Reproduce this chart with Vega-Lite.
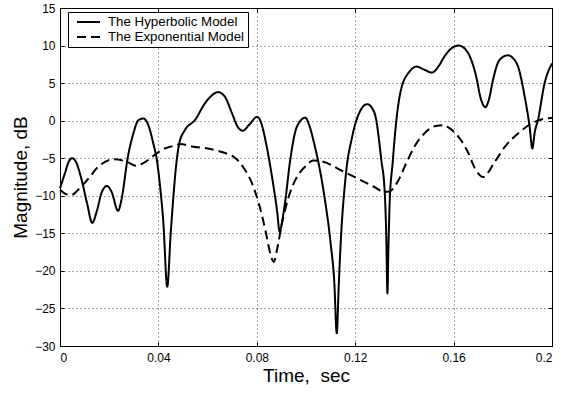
{
  "$schema": "https://vega.github.io/schema/vega-lite/v6.json",
  "width": 492,
  "height": 338,
  "autosize": {"type": "none"},
  "padding": {"left": 60, "top": 8, "right": 17, "bottom": 47},
  "background": "white",
  "config": {
    "font": "Liberation Sans",
    "view": {"stroke": "black", "strokeWidth": 1},
    "axis": {
      "domainColor": "black", "domainWidth": 1,
      "tickColor": "black", "tickSize": -4, "tickWidth": 1,
      "labelColor": "black", "labelFontSize": 12,
      "titleColor": "black", "titleFontSize": 19, "titleFontWeight": "normal",
      "gridColor": "#000", "gridOpacity": 0.7, "gridDash": [1, 3], "gridWidth": 1
    }
  },
  "data": {
    "values": [
      {"model": "The Hyperbolic Model", "t": 0, "db": -9.0},
      {"model": "The Hyperbolic Model", "t": 0.002, "db": -7.0},
      {"model": "The Hyperbolic Model", "t": 0.0035, "db": -5.5},
      {"model": "The Hyperbolic Model", "t": 0.005, "db": -5.0},
      {"model": "The Hyperbolic Model", "t": 0.0065, "db": -5.5},
      {"model": "The Hyperbolic Model", "t": 0.0085, "db": -7.5},
      {"model": "The Hyperbolic Model", "t": 0.011, "db": -11.0},
      {"model": "The Hyperbolic Model", "t": 0.0131, "db": -13.6},
      {"model": "The Hyperbolic Model", "t": 0.015, "db": -12.0},
      {"model": "The Hyperbolic Model", "t": 0.017, "db": -9.5},
      {"model": "The Hyperbolic Model", "t": 0.0191, "db": -8.7},
      {"model": "The Hyperbolic Model", "t": 0.021, "db": -9.5},
      {"model": "The Hyperbolic Model", "t": 0.0236, "db": -12.0},
      {"model": "The Hyperbolic Model", "t": 0.025, "db": -10.5},
      {"model": "The Hyperbolic Model", "t": 0.0276, "db": -4.8},
      {"model": "The Hyperbolic Model", "t": 0.03, "db": -1.5},
      {"model": "The Hyperbolic Model", "t": 0.0317, "db": 0.0},
      {"model": "The Hyperbolic Model", "t": 0.0338, "db": 0.3},
      {"model": "The Hyperbolic Model", "t": 0.0358, "db": -0.5},
      {"model": "The Hyperbolic Model", "t": 0.0379, "db": -3.0},
      {"model": "The Hyperbolic Model", "t": 0.0395, "db": -5.5},
      {"model": "The Hyperbolic Model", "t": 0.0407, "db": -8.8},
      {"model": "The Hyperbolic Model", "t": 0.042, "db": -13.5},
      {"model": "The Hyperbolic Model", "t": 0.0436, "db": -22.1},
      {"model": "The Hyperbolic Model", "t": 0.045, "db": -15.0},
      {"model": "The Hyperbolic Model", "t": 0.0461, "db": -10.1},
      {"model": "The Hyperbolic Model", "t": 0.0472, "db": -6.0},
      {"model": "The Hyperbolic Model", "t": 0.0485, "db": -3.0},
      {"model": "The Hyperbolic Model", "t": 0.0508, "db": -1.24},
      {"model": "The Hyperbolic Model", "t": 0.0549, "db": 0.1},
      {"model": "The Hyperbolic Model", "t": 0.0589, "db": 2.3},
      {"model": "The Hyperbolic Model", "t": 0.0615, "db": 3.3},
      {"model": "The Hyperbolic Model", "t": 0.0642, "db": 3.8},
      {"model": "The Hyperbolic Model", "t": 0.067, "db": 3.2},
      {"model": "The Hyperbolic Model", "t": 0.0699, "db": 1.0},
      {"model": "The Hyperbolic Model", "t": 0.0722, "db": -0.8},
      {"model": "The Hyperbolic Model", "t": 0.0743, "db": -1.34},
      {"model": "The Hyperbolic Model", "t": 0.077, "db": -0.5},
      {"model": "The Hyperbolic Model", "t": 0.0801, "db": 0.5},
      {"model": "The Hyperbolic Model", "t": 0.082, "db": -0.5},
      {"model": "The Hyperbolic Model", "t": 0.0835, "db": -2.6},
      {"model": "The Hyperbolic Model", "t": 0.0862, "db": -7.5},
      {"model": "The Hyperbolic Model", "t": 0.0882, "db": -11.9},
      {"model": "The Hyperbolic Model", "t": 0.0893, "db": -14.8},
      {"model": "The Hyperbolic Model", "t": 0.0905, "db": -13.0},
      {"model": "The Hyperbolic Model", "t": 0.0916, "db": -10.6},
      {"model": "The Hyperbolic Model", "t": 0.0936, "db": -5.2},
      {"model": "The Hyperbolic Model", "t": 0.0963, "db": -0.8},
      {"model": "The Hyperbolic Model", "t": 0.0997, "db": 0.4},
      {"model": "The Hyperbolic Model", "t": 0.1015, "db": -0.8},
      {"model": "The Hyperbolic Model", "t": 0.1033, "db": -3.0},
      {"model": "The Hyperbolic Model", "t": 0.1073, "db": -9.7},
      {"model": "The Hyperbolic Model", "t": 0.11, "db": -16.3},
      {"model": "The Hyperbolic Model", "t": 0.1115, "db": -21.5},
      {"model": "The Hyperbolic Model", "t": 0.1125, "db": -28.3},
      {"model": "The Hyperbolic Model", "t": 0.1133, "db": -22.0},
      {"model": "The Hyperbolic Model", "t": 0.1141, "db": -16.3},
      {"model": "The Hyperbolic Model", "t": 0.1161, "db": -7.5},
      {"model": "The Hyperbolic Model", "t": 0.1188, "db": -2.1},
      {"model": "The Hyperbolic Model", "t": 0.1222, "db": 1.4},
      {"model": "The Hyperbolic Model", "t": 0.1249, "db": 2.2},
      {"model": "The Hyperbolic Model", "t": 0.127, "db": 1.6},
      {"model": "The Hyperbolic Model", "t": 0.1283, "db": 0.5},
      {"model": "The Hyperbolic Model", "t": 0.1306, "db": -5.2},
      {"model": "The Hyperbolic Model", "t": 0.132, "db": -9.5},
      {"model": "The Hyperbolic Model", "t": 0.1326, "db": -15.0},
      {"model": "The Hyperbolic Model", "t": 0.1331, "db": -23.0},
      {"model": "The Hyperbolic Model", "t": 0.1335, "db": -17.0},
      {"model": "The Hyperbolic Model", "t": 0.134, "db": -11.0},
      {"model": "The Hyperbolic Model", "t": 0.1352, "db": -5.7},
      {"model": "The Hyperbolic Model", "t": 0.1366, "db": -0.35},
      {"model": "The Hyperbolic Model", "t": 0.1386, "db": 4.1},
      {"model": "The Hyperbolic Model", "t": 0.142, "db": 6.5},
      {"model": "The Hyperbolic Model", "t": 0.145, "db": 7.2},
      {"model": "The Hyperbolic Model", "t": 0.148, "db": 6.8},
      {"model": "The Hyperbolic Model", "t": 0.1512, "db": 6.4},
      {"model": "The Hyperbolic Model", "t": 0.154, "db": 7.3},
      {"model": "The Hyperbolic Model", "t": 0.1562, "db": 8.5},
      {"model": "The Hyperbolic Model", "t": 0.159, "db": 9.6},
      {"model": "The Hyperbolic Model", "t": 0.1621, "db": 10.0},
      {"model": "The Hyperbolic Model", "t": 0.1645, "db": 9.6},
      {"model": "The Hyperbolic Model", "t": 0.1664, "db": 8.7},
      {"model": "The Hyperbolic Model", "t": 0.1692, "db": 5.85},
      {"model": "The Hyperbolic Model", "t": 0.171, "db": 3.0},
      {"model": "The Hyperbolic Model", "t": 0.1729, "db": 1.8},
      {"model": "The Hyperbolic Model", "t": 0.1745, "db": 3.0},
      {"model": "The Hyperbolic Model", "t": 0.176, "db": 5.4},
      {"model": "The Hyperbolic Model", "t": 0.1787, "db": 8.1},
      {"model": "The Hyperbolic Model", "t": 0.1821, "db": 8.7},
      {"model": "The Hyperbolic Model", "t": 0.1845, "db": 8.2},
      {"model": "The Hyperbolic Model", "t": 0.1862, "db": 7.2},
      {"model": "The Hyperbolic Model", "t": 0.1889, "db": 3.2},
      {"model": "The Hyperbolic Model", "t": 0.1909, "db": -0.8},
      {"model": "The Hyperbolic Model", "t": 0.192, "db": -3.7},
      {"model": "The Hyperbolic Model", "t": 0.193, "db": -1.5},
      {"model": "The Hyperbolic Model", "t": 0.1943, "db": 0.1},
      {"model": "The Hyperbolic Model", "t": 0.197, "db": 5.0},
      {"model": "The Hyperbolic Model", "t": 0.2, "db": 7.6},
      {"model": "The Exponential Model", "t": 0, "db": -9.2},
      {"model": "The Exponential Model", "t": 0.002, "db": -9.7},
      {"model": "The Exponential Model", "t": 0.0045, "db": -9.9},
      {"model": "The Exponential Model", "t": 0.008, "db": -9.0},
      {"model": "The Exponential Model", "t": 0.0121, "db": -7.5},
      {"model": "The Exponential Model", "t": 0.015, "db": -6.3},
      {"model": "The Exponential Model", "t": 0.0168, "db": -5.8},
      {"model": "The Exponential Model", "t": 0.0217, "db": -5.15},
      {"model": "The Exponential Model", "t": 0.0271, "db": -5.46},
      {"model": "The Exponential Model", "t": 0.031, "db": -6.0},
      {"model": "The Exponential Model", "t": 0.033, "db": -5.8},
      {"model": "The Exponential Model", "t": 0.036, "db": -5.2},
      {"model": "The Exponential Model", "t": 0.0393, "db": -4.35},
      {"model": "The Exponential Model", "t": 0.0434, "db": -3.6},
      {"model": "The Exponential Model", "t": 0.047, "db": -3.3},
      {"model": "The Exponential Model", "t": 0.0488, "db": -3.1},
      {"model": "The Exponential Model", "t": 0.0542, "db": -3.47},
      {"model": "The Exponential Model", "t": 0.06, "db": -3.7},
      {"model": "The Exponential Model", "t": 0.065, "db": -4.1},
      {"model": "The Exponential Model", "t": 0.0679, "db": -4.4},
      {"model": "The Exponential Model", "t": 0.0706, "db": -4.8},
      {"model": "The Exponential Model", "t": 0.0747, "db": -6.3},
      {"model": "The Exponential Model", "t": 0.078, "db": -8.3},
      {"model": "The Exponential Model", "t": 0.0808, "db": -11.0},
      {"model": "The Exponential Model", "t": 0.0835, "db": -14.6},
      {"model": "The Exponential Model", "t": 0.0855, "db": -17.7},
      {"model": "The Exponential Model", "t": 0.0869, "db": -18.8},
      {"model": "The Exponential Model", "t": 0.0882, "db": -17.2},
      {"model": "The Exponential Model", "t": 0.0902, "db": -13.7},
      {"model": "The Exponential Model", "t": 0.093, "db": -10.1},
      {"model": "The Exponential Model", "t": 0.0963, "db": -7.5},
      {"model": "The Exponential Model", "t": 0.0997, "db": -6.1},
      {"model": "The Exponential Model", "t": 0.103, "db": -5.3},
      {"model": "The Exponential Model", "t": 0.107, "db": -5.46},
      {"model": "The Exponential Model", "t": 0.114, "db": -6.57},
      {"model": "The Exponential Model", "t": 0.1209, "db": -7.7},
      {"model": "The Exponential Model", "t": 0.1276, "db": -8.8},
      {"model": "The Exponential Model", "t": 0.132, "db": -9.5},
      {"model": "The Exponential Model", "t": 0.1341, "db": -9.4},
      {"model": "The Exponential Model", "t": 0.1373, "db": -8.1},
      {"model": "The Exponential Model", "t": 0.1407, "db": -5.7},
      {"model": "The Exponential Model", "t": 0.144, "db": -3.5},
      {"model": "The Exponential Model", "t": 0.1481, "db": -1.7},
      {"model": "The Exponential Model", "t": 0.1528, "db": -0.7},
      {"model": "The Exponential Model", "t": 0.156, "db": -0.6},
      {"model": "The Exponential Model", "t": 0.1583, "db": -1.0},
      {"model": "The Exponential Model", "t": 0.163, "db": -2.6},
      {"model": "The Exponential Model", "t": 0.1657, "db": -4.1},
      {"model": "The Exponential Model", "t": 0.1686, "db": -6.3},
      {"model": "The Exponential Model", "t": 0.172, "db": -7.5},
      {"model": "The Exponential Model", "t": 0.1767, "db": -5.5},
      {"model": "The Exponential Model", "t": 0.1808, "db": -3.5},
      {"model": "The Exponential Model", "t": 0.1862, "db": -1.7},
      {"model": "The Exponential Model", "t": 0.193, "db": -0.15},
      {"model": "The Exponential Model", "t": 0.1977, "db": 0.3},
      {"model": "The Exponential Model", "t": 0.2, "db": 0.35}
    ]
  },
  "layer": [
    {
      "mark": {"type": "line", "strokeWidth": 2, "interpolate": "monotone"},
      "encoding": {
        "x": {
          "field": "t", "type": "quantitative",
          "scale": {"domain": [0, 0.2], "nice": false, "zero": false},
          "axis": {"title": "Time,\u00a0 sec", "values": [0, 0.04, 0.08, 0.12, 0.16, 0.2], "format": "~g", "labelPadding": 10, "titlePadding": 3, "grid": true}
        },
        "y": {
          "field": "db", "type": "quantitative",
          "scale": {"domain": [-30, 15], "nice": false, "zero": false},
          "axis": {"title": "Magnitude, dB", "values": [-30, -25, -20, -15, -10, -5, 0, 5, 10, 15], "format": "~g", "labelPadding": 9, "titlePadding": 4, "grid": true}
        },
        "color": {
          "field": "model", "type": "nominal",
          "scale": {"domain": ["The Hyperbolic Model", "The Exponential Model"], "range": ["black", "black"]},
          "legend": {"title": null, "orient": "none", "legendX": 8, "legendY": 4, "strokeColor": "black", "fillColor": "white", "padding": 3, "symbolType": "stroke", "symbolSize": 529, "symbolStrokeWidth": 2, "symbolStrokeColor": "black", "labelFontSize": 13.3, "labelColor": "black", "labelOffset": 7, "rowPadding": 1, "clipHeight": 14, "symbolOffset": 5}
        },
        "strokeDash": {
          "field": "model", "type": "nominal",
          "scale": {"domain": ["The Hyperbolic Model", "The Exponential Model"], "range": [[1, 0], [9, 5]]},
          "legend": {"title": null, "orient": "none", "legendX": 8, "legendY": 4, "strokeColor": "black", "fillColor": "white", "padding": 3, "symbolType": "stroke", "symbolSize": 529, "symbolStrokeWidth": 2, "symbolStrokeColor": "black", "labelFontSize": 13.3, "labelColor": "black", "labelOffset": 7, "rowPadding": 1, "clipHeight": 14, "symbolOffset": 5}
        }
      }
    },
    {
      "mark": {"type": "point", "opacity": 0},
      "encoding": {
        "x": {"field": "t", "type": "quantitative", "axis": {"orient": "top", "title": null, "labels": false, "grid": false, "values": [0, 0.04, 0.08, 0.12, 0.16, 0.2]}},
        "y": {"field": "db", "type": "quantitative", "axis": {"orient": "right", "title": null, "labels": false, "grid": false, "values": [-30, -25, -20, -15, -10, -5, 0, 5, 10, 15]}}
      }
    }
  ],
  "resolve": {"axis": {"x": "independent", "y": "independent"}}
}
